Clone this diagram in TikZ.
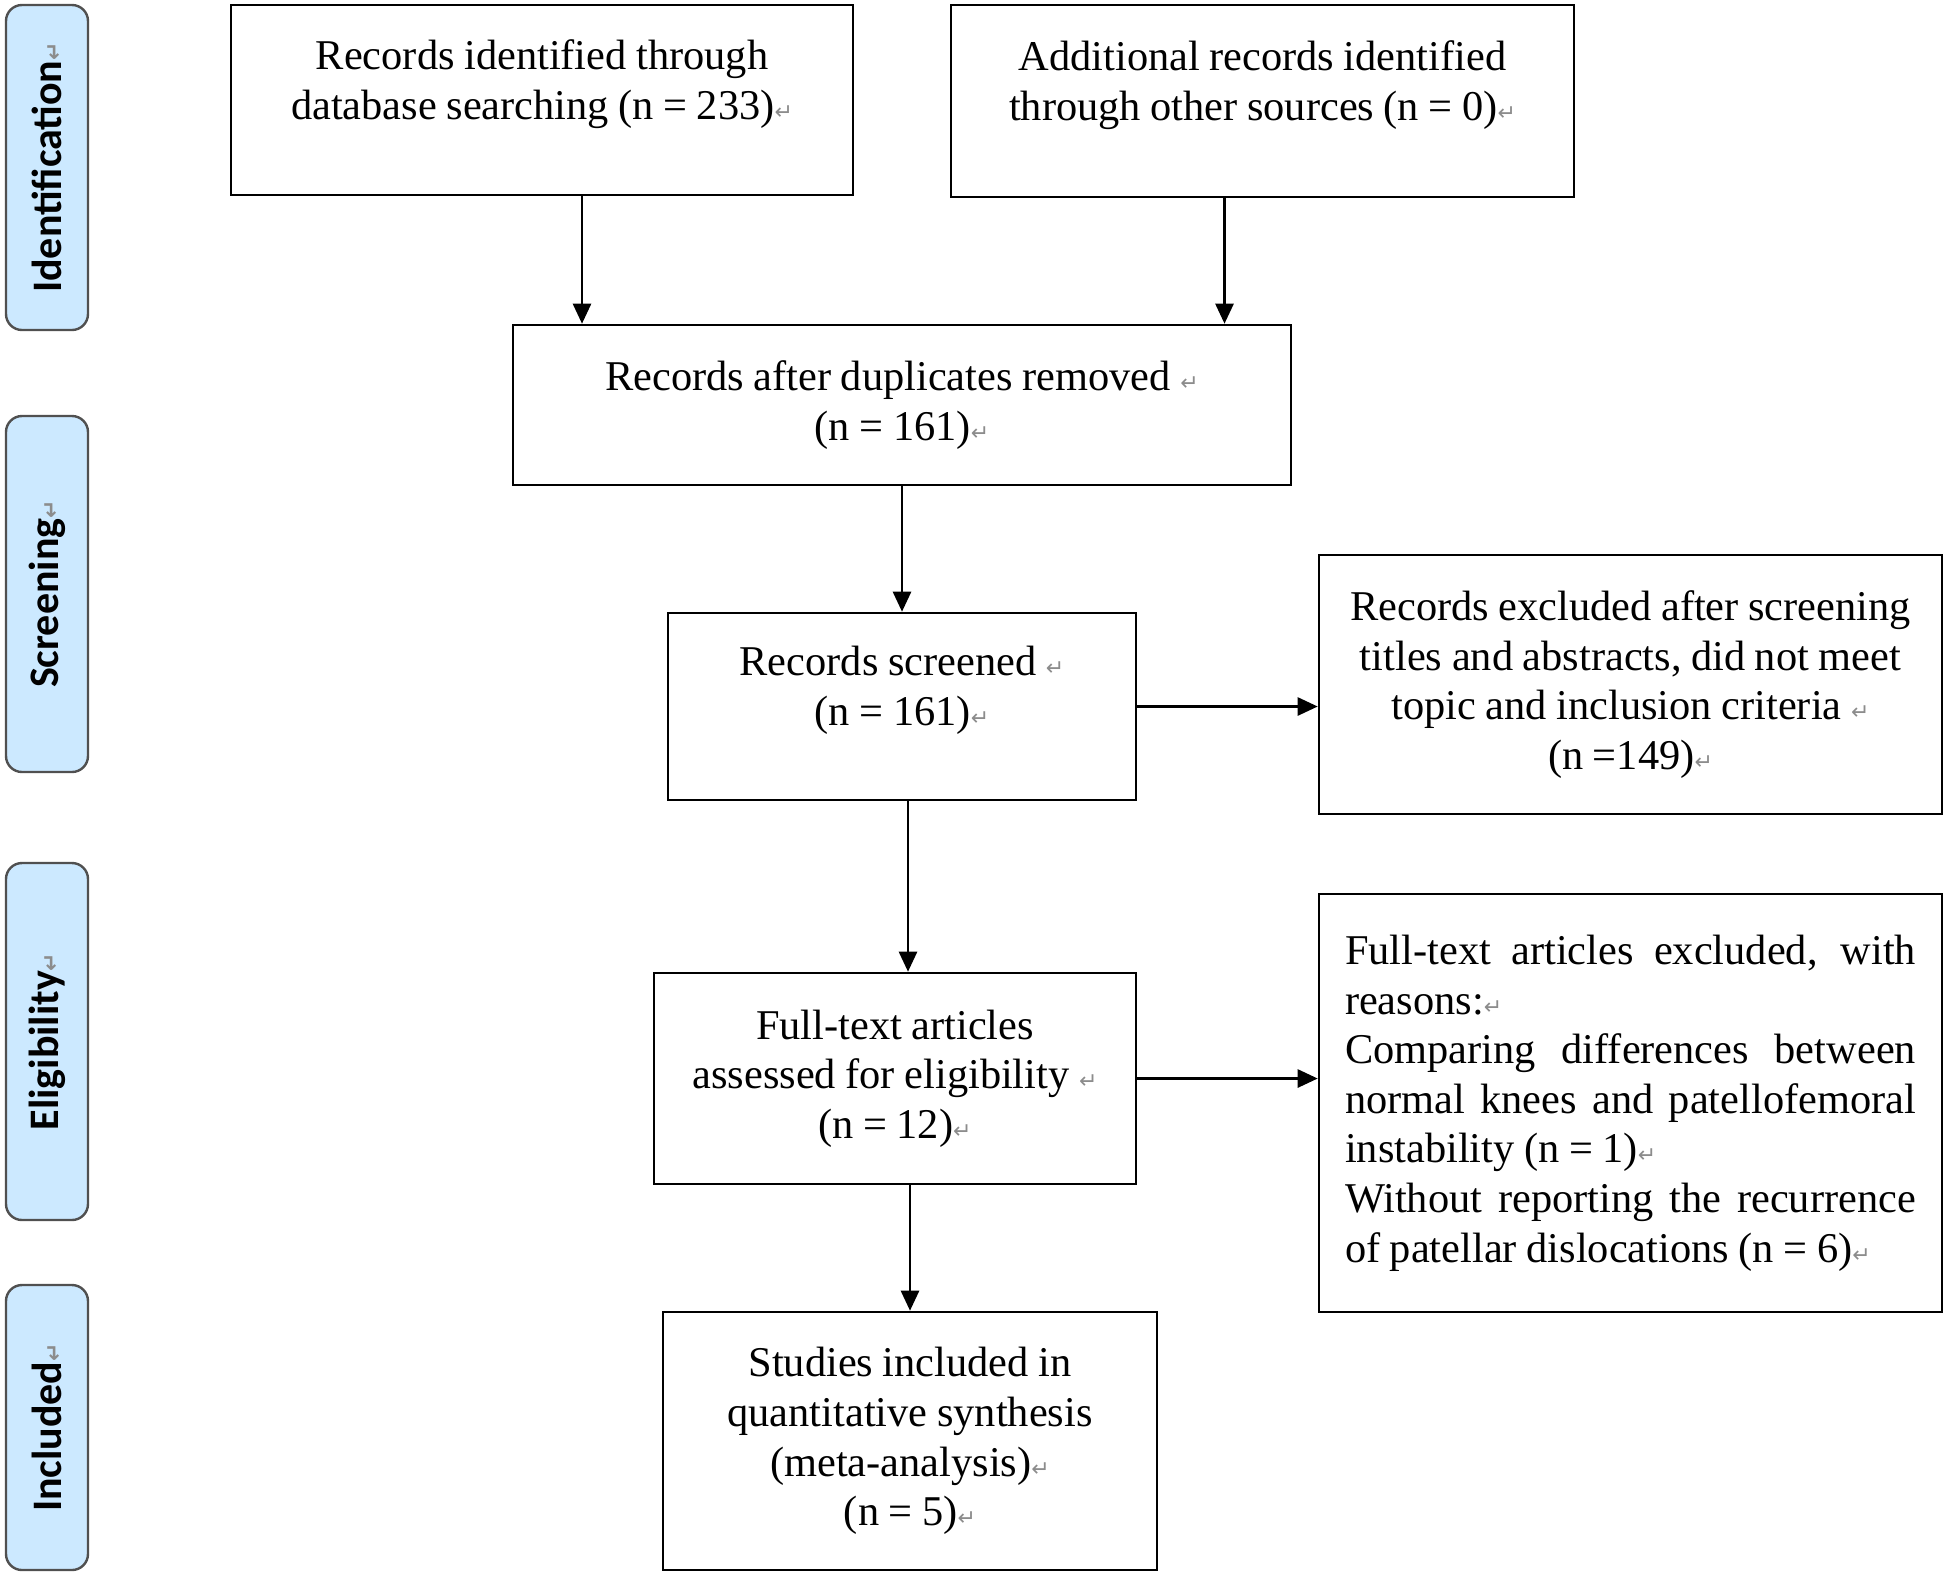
\documentclass[tikz,border=0pt]{standalone}
\usepackage{fontspec}
\setmainfont{Liberation Serif}[WordSpace=0.9]
\newfontfamily\sidefont{Carlito}
\newfontfamily\symfont{DejaVu Sans}
\usepackage{tikz}
\usetikzlibrary{
  positioning,
  calc,
  arrows.meta
}
\definecolor{sideblue}{HTML}{CCE9FF}
\definecolor{sideedge}{HTML}{505050}
\setlength{\parindent}{0pt}
\hyphenpenalty=10000
\newcommand{\ret}{{\symfont\color{black!45}\fontsize{11}{11}\selectfont ↵}}
\newcommand{\lift}{\par\kern16pt}
\tikzstyle{stage}=[draw=sideedge, fill=sideblue, line width=1.2pt, rounded corners=8pt,
  rotate=90, minimum height=41pt, inner sep=0pt, font=\sidefont\bfseries\fontsize{21}{25}\selectfont]
\tikzstyle{box}=[draw, line width=1.3pt, align=flush center, inner xsep=10pt, inner ysep=0pt,
  font=\fontsize{21.2}{24.8}\selectfont]
\tikzstyle{flow}=[-{Triangle[length=10pt,width=9pt]}, line width=1.3pt]

\begin{document}
\begin{tikzpicture}[x=0.5pt, y=-0.5pt]
    \useasboundingbox (0,0) rectangle (1946,1575);

    % STAGES
    \node[stage, minimum width=162.5pt] (ident) at (47,167.5)  {Identification\ret\hspace{6pt}};
    \node[stage, minimum width=178pt]   (screen) at (47,594)   {Screening\ret};
    \node[stage, minimum width=178.5pt] (elig) at (47,1041.5)  {Eligibility\ret};
    \node[stage, minimum width=142.5pt] (incl) at (47,1427.5)  {Included\ret};

    % BOXES
    \node[box, text width=291pt, minimum height=95pt] (search) at (542,100)
      {Records identified through\\database searching (n = 233)\ret\lift};
    \node[box, text width=291.5pt, minimum height=96pt] (other) at (1262.5,101)
      {Additional records identified\\through other sources (n = 0)\ret\lift};
    \node[box, text width=369pt, minimum height=80pt] (dedup) at (902,405)
      {Records after duplicates removed \ret\\(n = 161)\ret};
    \node[box, text width=214pt, minimum height=93.5pt] (screened) at (902,706.5)
      {Records screened \ret\\(n = 161)\ret\lift};
    \node[box, text width=300pt, inner xsep=5.75pt, minimum height=129.5pt] (excl) at (1630.5,684.5)
      {Records excluded after screening\\titles and abstracts, did not meet\\topic and inclusion criteria \ret\\(n =149)\ret};
    \node[box, text width=221pt, minimum height=105.5pt] (fulltext) at (895,1078.5)
      {Full-text articles\\assessed for eligibility \ret\\(n = 12)\ret};
    \node[box, align=justify, text width=285.5pt, inner xsep=13pt, minimum height=209pt] (reasons) at (1630.5,1103)
      {Full-text articles excluded, with\linebreak reasons:\ret\par
       Comparing differences between\linebreak normal knees and patellofemoral\linebreak instability (n = 1)\ret\par
       Without reporting the recurrence\linebreak of patellar dislocations (n = 6)\ret};
    \node[box, text width=227pt, minimum height=129pt] (synth) at (910,1441)
      {Studies included in\\quantitative synthesis\\(meta-analysis)\ret\\(n = 5)\ret};

    % ARROWS
    \draw[flow] ([xshift=20pt]search.south) -- ([xshift=20pt]search.south |- dedup.north);
    \draw[flow] ([xshift=-19pt]other.south) -- ([xshift=-19pt]other.south |- dedup.north);
    \draw[flow] (dedup.south) -- (screened.north);
    \draw[flow] (screened.east) -- (screened.east -| excl.west);
    \draw[flow] ([xshift=3pt]screened.south) -- ([xshift=3pt]screened.south |- fulltext.north);
    \draw[flow] (fulltext.east) -- (fulltext.east -| reasons.west);
    \draw[flow] (synth.north |- fulltext.south) -- (synth.north);
\end{tikzpicture}
\end{document}
